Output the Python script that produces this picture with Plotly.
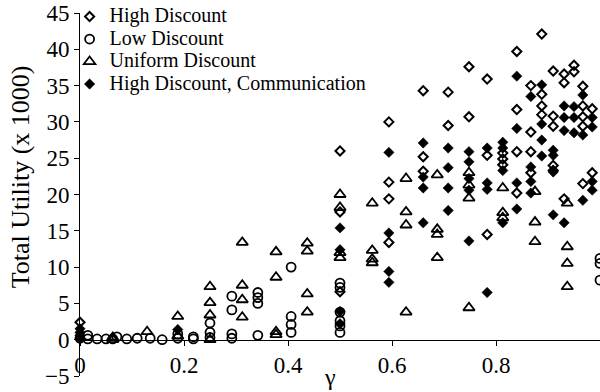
import plotly.graph_objects as go

# High Discount (hollow diamonds)
hd_x = [0, 0.5, 0.5, 0.5, 0.594, 0.594, 0.594, 0.594, 0.66, 0.66, 0.66,
        0.708, 0.708, 0.748, 0.748, 0.783, 0.783, 0.783, 0.813, 0.813, 0.813,
        0.84, 0.84, 0.84, 0.84, 0.867, 0.867, 0.867, 0.867,
        0.888, 0.888, 0.888, 0.888, 0.91, 0.91, 0.91, 0.91, 0.91,
        0.931, 0.931, 0.931, 0.95, 0.95, 0.967, 0.967, 0.967, 0.967, 0.967,
        0.985, 0.985]
hd_y = [2.4, 26.0, 17.6, 6.6, 30.0, 21.7, 19.4, 13.4, 34.3, 25.2, 23.2,
        34.1, 29.5, 37.6, 30.7, 35.9, 25.4, 14.5, 25.7, 24.9, 24.1,
        39.7, 31.7, 25.9, 20.2, 35.0, 28.6, 25.9, 23.0,
        42.1, 33.8, 32.2, 31.0, 37.0, 30.8, 29.4, 24.0, 23.3,
        36.6, 35.4, 19.4, 37.8, 36.9, 34.9, 32.2, 30.7, 29.4, 21.5,
        31.8, 23.0]

# Low Discount (hollow circles)
ld_x = [0, 0.015, 0.015, 0.033, 0.05, 0.063, 0.071, 0.09, 0.11, 0.135, 0.158,
        0.188, 0.188, 0.218, 0.218, 0.25, 0.25, 0.25,
        0.292, 0.292, 0.292, 0.292, 0.342, 0.342, 0.342, 0.342,
        0.406, 0.406, 0.406, 0.406, 0.5, 0.5, 0.5, 0.5, 0.5, 0.5,
        1.0, 1.0, 1.0]
ld_y = [0.2, 0.1, 0.6, 0.1, 0.1, 0.1, 0.4, 0.1, 0.2, 0.2, 0.0,
        0.2, 0.8, 0.1, 0.4, 2.3, 1.0, 0.3,
        6.0, 4.1, 0.8, 0.2, 6.5, 5.8, 5.0, 0.6,
        10.0, 3.2, 2.1, 1.0, 7.8, 7.2, 3.8, 2.6, 1.9, 1.0,
        11.2, 10.5, 8.2]

# Uniform Discount (hollow triangles)
ud_x = [0.063, 0.063, 0.129, 0.188, 0.188, 0.25, 0.25, 0.25, 0.25,
        0.312, 0.312, 0.312, 0.312, 0.377, 0.377, 0.377, 0.377,
        0.437, 0.437, 0.437, 0.437, 0.5, 0.5, 0.5, 0.5,
        0.562, 0.562, 0.562, 0.562, 0.627, 0.627, 0.627, 0.627,
        0.687, 0.687, 0.687, 0.687, 0.748, 0.748, 0.748, 0.748,
        0.813, 0.813, 0.813, 0.875, 0.875, 0.875,
        0.937, 0.937, 0.937, 0.937]
ud_y = [0.3, 0.0, 1.1, 3.2, 0.5, 7.3, 5.1, 3.4, 0.0,
        13.4, 7.5, 5.5, 3.1, 12.1, 8.6, 1.1, 0.7,
        13.3, 12.2, 6.3, 3.8, 20.0, 18.2, 12.0, 11.3,
        18.8, 12.3, 11.1, 10.6, 22.2, 17.6, 15.8, 3.8,
        22.7, 15.2, 14.5, 11.3, 23.0, 21.3, 19.5, 4.4,
        20.9, 17.5, 16.8, 20.4, 16.2, 13.5,
        18.8, 12.8, 10.5, 7.3]

# High Discount, Communication (filled diamonds)
hdc_x = [0, 0, 0, 0, 0.188, 0.5, 0.5, 0.5, 0.5,
         0.594, 0.594, 0.594, 0.594, 0.66, 0.66, 0.66, 0.66,
         0.708, 0.708, 0.708, 0.708, 0.748, 0.748, 0.748, 0.748, 0.748,
         0.783, 0.783, 0.783, 0.783, 0.813, 0.813, 0.813, 0.813,
         0.84, 0.84, 0.84, 0.84, 0.867, 0.867, 0.867, 0.867,
         0.888, 0.888, 0.888, 0.888, 0.91, 0.91, 0.91, 0.91,
         0.931, 0.931, 0.931, 0.931, 0.95, 0.95, 0.95,
         0.967, 0.967, 0.967, 0.985, 0.985, 0.985, 0.985]
hdc_y = [0.2, 0.6, 1.0, 1.5, 1.4, 15.4, 12.4, 3.9, 2.2,
         25.8, 14.7, 9.4, 7.9, 27.1, 22.4, 20.9, 16.1,
         26.4, 23.7, 20.9, 17.8, 25.9, 24.5, 22.2, 20.6, 13.6,
         26.4, 21.6, 20.7, 6.5, 27.2, 26.4, 23.3, 16.1,
         36.3, 29.1, 21.6, 18.0, 33.5, 23.8, 21.8, 20.2,
         35.1, 29.7, 27.5, 25.3, 26.1, 25.4, 23.1, 17.2,
         32.2, 30.6, 28.8, 16.1, 32.1, 30.6, 28.5,
         33.7, 28.2, 19.2, 30.6, 29.3, 21.8, 20.6]

series_names = ["High Discount", "Low Discount", "Uniform Discount",
                "High Discount, Communication"]

x_ticks = [0, 0.2, 0.4, 0.6, 0.8, 1]
x_tick_labels = ["0", "0.2", "0.4", "0.6", "0.8", "1"]
y_ticks = [-5, 0, 5, 10, 15, 20, 25, 30, 35, 40, 45]

FONT = "Liberation Serif"


def legend_name(s):
    return "<span style='font-size:20px'>" + s + "</span>"


fig = go.Figure()
fig.add_trace(go.Scatter(x=hd_x, y=hd_y, mode="markers", name=legend_name(series_names[0]),
                         cliponaxis=False,
                         marker=dict(symbol="diamond-open", size=7, color="black",
                                     line=dict(width=2, color="black"))))
fig.add_trace(go.Scatter(x=ld_x, y=ld_y, mode="markers", name=legend_name(series_names[1]),
                         cliponaxis=False,
                         marker=dict(symbol="circle-open", size=9, color="black",
                                     line=dict(width=1.8, color="black"))))
fig.add_trace(go.Scatter(x=ud_x, y=ud_y, mode="markers", name=legend_name(series_names[2]),
                         cliponaxis=False,
                         marker=dict(symbol="triangle-up-open", size=10, color="black",
                                     line=dict(width=1.8, color="black"))))
fig.add_trace(go.Scatter(x=hdc_x, y=hdc_y, mode="markers",
                         name=legend_name(series_names[3]),
                         cliponaxis=False,
                         marker=dict(symbol="diamond", size=8, color="black",
                                     line=dict(width=0.5, color="black"))))

fig.update_layout(
    width=600, height=392,
    margin=dict(l=80, r=0, t=13, b=16),
    paper_bgcolor="white", plot_bgcolor="white",
    font=dict(family=FONT, color="black"),
    showlegend=True,
    legend=dict(x=-0.02, y=1.035, xanchor="left", yanchor="top",
                bgcolor="rgba(0,0,0,0)", borderwidth=0,
                font=dict(family=FONT, size=15, color="black"),
                itemwidth=30, tracegroupgap=0),
    xaxis=dict(range=[0, 1], tickvals=x_ticks, ticktext=x_tick_labels,
               showgrid=False, zeroline=False, showline=True,
               linecolor="black", linewidth=1, ticks="outside", ticklen=5,
               tickcolor="black", tickfont=dict(family=FONT, size=23),
               anchor="free", position=0.1, automargin=False),
    yaxis=dict(range=[-5, 45], tickvals=y_ticks,
               showgrid=False, zeroline=False, showline=True,
               linecolor="black", linewidth=1, ticks="outside", ticklen=5,
               tickcolor="black", tickfont=dict(family=FONT, size=23),
               automargin=False),
    annotations=[
        dict(text="Total Utility (x 1000)", textangle=-90, showarrow=False,
             xref="paper", yref="paper", x=-0.115, y=0.548,
             xanchor="center", yanchor="middle",
             font=dict(family=FONT, size=26, color="black")),
        dict(text="γ", showarrow=False, xref="paper", yref="paper",
             x=0.48, y=-0.004, xanchor="center", yanchor="middle",
             font=dict(family=FONT, size=24, color="black")),
    ],
)

fig.write_html("out.html", config={"displayModeBar": False},
               post_script="document.body.style.margin='0px';")
